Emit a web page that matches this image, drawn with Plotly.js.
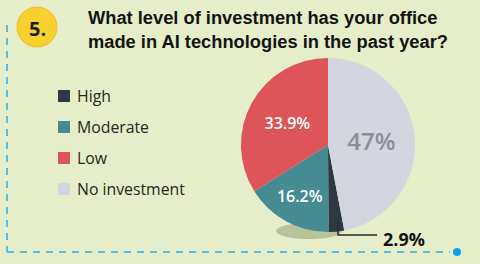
<!DOCTYPE html>
<html>
<head>
<meta charset="utf-8">
<script src="https://cdn.plot.ly/plotly-3.0.1.min.js"></script>
<style>html,body{margin:0;padding:0;background:#e5eec8;}#chart{width:480px;height:264px;}</style>
</head>
<body>
<div id="chart"></div>
<script>
// Data
const categories = ['High', 'Moderate', 'Low', 'No investment'];
const values = [2.9, 16.2, 33.9, 47];
const colors = ['#2e3a42', '#468b91', '#dd5459', '#d3d6de'];
const questionNumber = '5.';
const titleText = 'What level of investment has your office<br>made in AI technologies in the past year?';

const W = 480, H = 264;
const px = x => x / W;
const py = y => 1 - y / H;

// pie geometry (pixels)
const cx = 328, cy = 145, r = 87;

const trace = {
  type: 'pie',
  labels: categories,
  values: values,
  sort: false,
  direction: 'clockwise',
  rotation: 169.2,
  marker: {colors: colors, line: {width: 0}},
  texttemplate: ['', '%{value}%', '%{value}%', '%{value}%'],
  textposition: 'inside',
  insidetextorientation: 'horizontal',
  textfont: {family: 'Open Sans, sans-serif', color: ['#ffffff', '#ffffff', '#ffffff', '#8a8e96'], size: [16, 16, 16, 24], weight: 600},
  hoverinfo: 'none',
  showlegend: false,
  automargin: false,
  domain: {x: [px(cx - r), px(cx + r)], y: [py(cy + r), py(cy - r)]}
};

const shapes = [];
const annotations = [];

// shadow under pie
shapes.push({type: 'circle', xref: 'paper', yref: 'paper', layer: 'below',
  x0: px(276), x1: px(342), y0: py(239), y1: py(223),
  fillcolor: 'rgba(70,85,35,0.28)', line: {width: 0}});

// dashed frame
shapes.push({type: 'line', xref: 'paper', yref: 'paper', x0: px(7), x1: px(7), y0: py(25), y1: py(252),
  line: {color: '#55c0e6', width: 2, dash: '7px,6px'}});
shapes.push({type: 'line', xref: 'paper', yref: 'paper', x0: px(7), x1: px(450), y0: py(252), y1: py(252),
  line: {color: '#55c0e6', width: 2, dash: '7px,6px'}});
shapes.push({type: 'circle', xref: 'paper', yref: 'paper', x0: px(453), x1: px(461), y0: py(256), y1: py(248),
  fillcolor: '#12a2ea', line: {width: 0}});

// number badge
shapes.push({type: 'circle', xref: 'paper', yref: 'paper', x0: px(17), x1: px(57), y0: py(47), y1: py(7),
  fillcolor: '#f9d12e', line: {color: '#e8c02a', width: 1}});
annotations.push({xref: 'paper', yref: 'paper', x: px(37), y: py(28), text: questionNumber, showarrow: false,
  font: {family: 'Open Sans, sans-serif', size: 20, color: '#1d1d1d', weight: 700}, xanchor: 'center', yanchor: 'middle'});

// title
annotations.push({xref: 'paper', yref: 'paper', x: px(86), y: py(5), text: titleText, showarrow: false, align: 'left',
  xanchor: 'left', yanchor: 'top',
  font: {family: 'Liberation Sans, Arial, sans-serif', size: 18.3, color: '#141414', weight: 700}});

// custom legend
const legendY0 = 96, legendStep = 31;
categories.forEach((c, i) => {
  const y = legendY0 + i * legendStep;
  shapes.push({type: 'rect', xref: 'paper', yref: 'paper', x0: px(58), x1: px(70), y0: py(y + 6), y1: py(y - 6),
    fillcolor: colors[i], line: {width: 0}});
  annotations.push({xref: 'paper', yref: 'paper', x: px(75), y: py(y), text: c, showarrow: false,
    xanchor: 'left', yanchor: 'middle', font: {family: 'Open Sans, sans-serif', size: 15.8, color: '#262626'}});
});

// outside label for the small slice
shapes.push({type: 'path', xref: 'paper', yref: 'paper',
  path: `M ${px(338)} ${py(222)} L ${px(338)} ${py(235)} L ${px(377)} ${py(235)}`,
  line: {color: '#2a2a2a', width: 1.5}});
annotations.push({xref: 'paper', yref: 'paper', x: px(381), y: py(239), text: values[0] + '%', showarrow: false,
  xanchor: 'left', yanchor: 'middle', font: {family: 'Open Sans, sans-serif', size: 18, color: '#151515', weight: 700}});

const layout = {
  width: W, height: H,
  margin: {l: 0, r: 0, t: 0, b: 0},
  paper_bgcolor: '#e5eec8',
  plot_bgcolor: '#e5eec8',
  showlegend: false,
  shapes: shapes,
  annotations: annotations
};

Plotly.newPlot('chart', [trace], layout, {displayModeBar: false, staticPlot: true});
</script>
</body>
</html>
